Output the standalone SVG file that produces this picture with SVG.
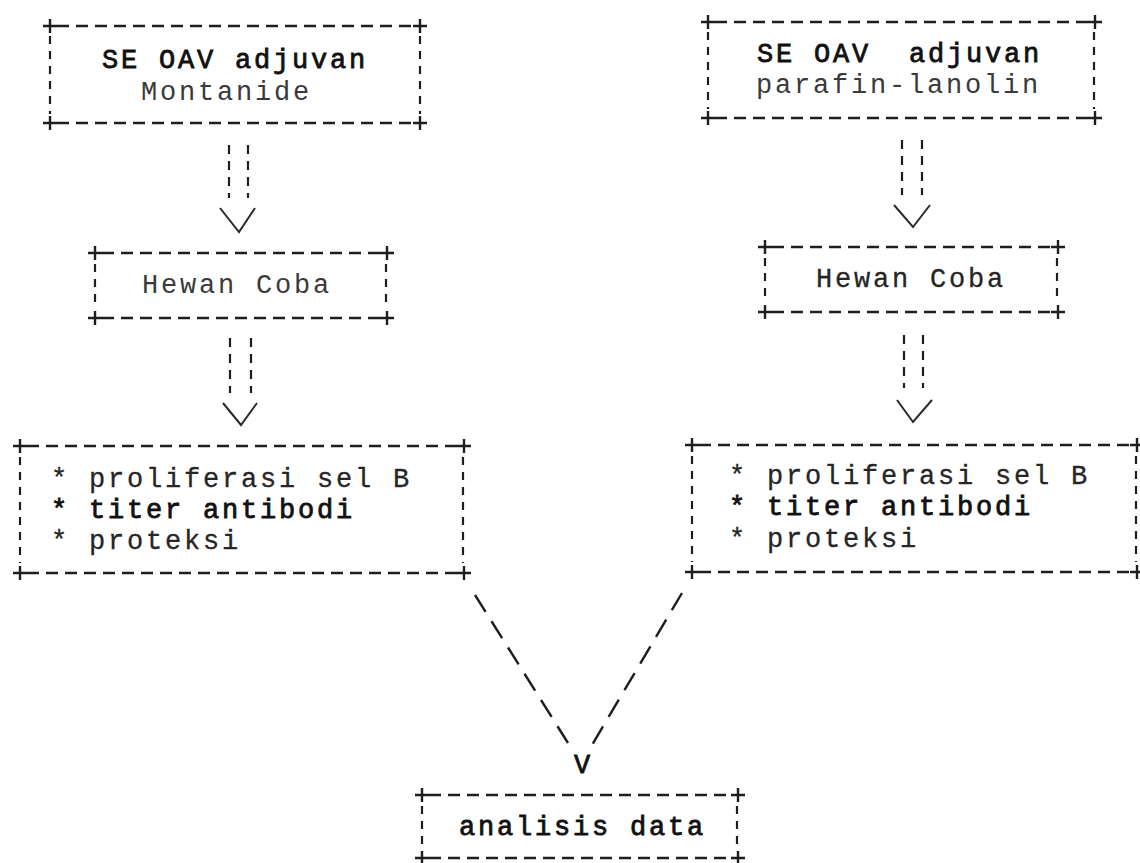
<svg xmlns="http://www.w3.org/2000/svg" xmlns:xlink="http://www.w3.org/1999/xlink" width="1140" height="863" viewBox="0 0 1140 863">
<style>
  .bg { fill: #ffffff; }
  .h { stroke: #1e1e1e; stroke-width: 2.4; stroke-dasharray: 12 7; fill: none; }
  .v { stroke: #1e1e1e; stroke-width: 2.2; stroke-dasharray: 8 7; fill: none; }
  .plus { stroke: #1e1e1e; stroke-width: 2.4; fill: none; }
  .shaft { stroke: #1e1e1e; stroke-width: 2.2; stroke-dasharray: 9 7; fill: none; }
  .head { stroke: #2a2a2a; stroke-width: 2; fill: none; }
  .diag { stroke: #1e1e1e; stroke-width: 2.4; stroke-dasharray: 20 11; fill: none; }
  text { font-family: "Liberation Mono", "Courier New", monospace; font-size: 27px; letter-spacing: 2.8px; }
  .dark { fill: #111111; stroke: #111111; stroke-width: 0.8; }
  .mid { fill: #262626; stroke: #262626; stroke-width: 0.3; }
  .light { fill: #3a3a3a; }
</style>
<defs>
  <path id="plus" class="plus" d="M-7,0 H7 M0,-7 V7"/>
</defs>
<rect class="bg" x="0" y="0" width="1140" height="863"/>

<g id="connectors">
  <line class="shaft" x1="229" y1="145" x2="229" y2="198"/>
  <line class="shaft" x1="248" y1="145" x2="248" y2="198"/>
  <polyline class="head" points="220,208 239,232 255,208"/>
  <line class="shaft" x1="230" y1="338" x2="230" y2="393"/>
  <line class="shaft" x1="251" y1="338" x2="251" y2="393"/>
  <polyline class="head" points="223,403 241,425 257,403"/>
  <line class="shaft" x1="902" y1="140" x2="902" y2="195"/>
  <line class="shaft" x1="922" y1="140" x2="922" y2="195"/>
  <polyline class="head" points="894,205 913,227 930,205"/>
  <line class="shaft" x1="904" y1="335" x2="904" y2="388"/>
  <line class="shaft" x1="923" y1="335" x2="923" y2="388"/>
  <polyline class="head" points="897,400 913,422 932,400"/>
  <line class="diag" x1="475" y1="595" x2="568" y2="743"/>
  <line class="diag" x1="682" y1="593" x2="592" y2="745"/>
  <text class="dark" x="582" y="773" text-anchor="middle" style="letter-spacing:0">V</text>
</g>

<g id="node-montanide">
  <line class="h" x1="57" y1="26" x2="413" y2="26"/>
  <line class="h" x1="57" y1="123" x2="413" y2="123"/>
  <line class="v" x1="50" y1="36" x2="50" y2="114"/>
  <line class="v" x1="420" y1="36" x2="420" y2="114"/>
  <use xlink:href="#plus" x="50" y="26"/><use xlink:href="#plus" x="420" y="26"/>
  <use xlink:href="#plus" x="50" y="123"/><use xlink:href="#plus" x="420" y="123"/>
  <text class="dark" x="102" y="68">SE OAV adjuvan</text>
  <text class="light" x="141" y="100">Montanide</text>
</g>

<g id="node-parafin">
  <line class="h" x1="715" y1="22" x2="1088" y2="22"/>
  <line class="h" x1="715" y1="118" x2="1088" y2="118"/>
  <line class="v" x1="708" y1="32" x2="708" y2="109"/>
  <line class="v" x1="1094" y1="32" x2="1094" y2="109"/>
  <use xlink:href="#plus" x="708" y="22"/><use xlink:href="#plus" x="1095" y="22"/>
  <use xlink:href="#plus" x="708" y="118"/><use xlink:href="#plus" x="1095" y="118"/>
  <text class="dark" x="757" y="62" xml:space="preserve">SE OAV  adjuvan</text>
  <text class="light" x="756" y="93">parafin-lanolin</text>
</g>

<g id="node-hewan-left">
  <line class="h" x1="102" y1="253" x2="380" y2="253"/>
  <line class="h" x1="102" y1="318" x2="380" y2="318"/>
  <line class="v" x1="95" y1="264" x2="95" y2="308"/>
  <line class="v" x1="386" y1="264" x2="386" y2="308"/>
  <use xlink:href="#plus" x="95" y="253"/><use xlink:href="#plus" x="387" y="253"/>
  <use xlink:href="#plus" x="95" y="318"/><use xlink:href="#plus" x="387" y="318"/>
  <text class="light" x="142" y="293">Hewan Coba</text>
</g>

<g id="node-hewan-right">
  <line class="h" x1="772" y1="247" x2="1051" y2="247"/>
  <line class="h" x1="772" y1="312" x2="1051" y2="312"/>
  <line class="v" x1="765" y1="258" x2="765" y2="302"/>
  <line class="v" x1="1057" y1="258" x2="1057" y2="302"/>
  <use xlink:href="#plus" x="765" y="247"/><use xlink:href="#plus" x="1058" y="247"/>
  <use xlink:href="#plus" x="765" y="312"/><use xlink:href="#plus" x="1058" y="312"/>
  <text class="mid" x="816" y="287">Hewan Coba</text>
</g>

<g id="node-result-left">
  <line class="h" x1="27" y1="446" x2="457" y2="446"/>
  <line class="h" x1="27" y1="573" x2="457" y2="573"/>
  <line class="v" x1="20" y1="457" x2="20" y2="563"/>
  <line class="v" x1="463" y1="457" x2="463" y2="563"/>
  <use xlink:href="#plus" x="20" y="446"/><use xlink:href="#plus" x="464" y="446"/>
  <use xlink:href="#plus" x="20" y="573"/><use xlink:href="#plus" x="464" y="573"/>
  <text class="mid" x="51" y="487">* proliferasi sel B</text>
  <text class="dark" x="51" y="518">* titer antibodi</text>
  <text class="mid" x="51" y="549">* proteksi</text>
</g>

<g id="node-result-right">
  <line class="h" x1="699" y1="445" x2="1130" y2="445"/>
  <line class="h" x1="699" y1="572" x2="1130" y2="572"/>
  <line class="v" x1="692" y1="456" x2="692" y2="562"/>
  <line class="v" x1="1136" y1="456" x2="1136" y2="562"/>
  <use xlink:href="#plus" x="692" y="445"/><use xlink:href="#plus" x="1137" y="445"/>
  <use xlink:href="#plus" x="692" y="572"/><use xlink:href="#plus" x="1137" y="572"/>
  <text class="mid" x="729" y="484">* proliferasi sel B</text>
  <text class="dark" x="729" y="515">* titer antibodi</text>
  <text class="mid" x="729" y="547">* proteksi</text>
</g>

<g id="node-analisis">
  <line class="h" x1="429" y1="795" x2="731" y2="795"/>
  <line class="h" x1="429" y1="858" x2="731" y2="858"/>
  <line class="v" x1="422" y1="806" x2="422" y2="848"/>
  <line class="v" x1="737" y1="806" x2="737" y2="848"/>
  <use xlink:href="#plus" x="422" y="795"/><use xlink:href="#plus" x="738" y="795"/>
  <use xlink:href="#plus" x="422" y="858"/><use xlink:href="#plus" x="738" y="858"/>
  <text class="dark" x="459" y="835">analisis data</text>
</g>
</svg>
